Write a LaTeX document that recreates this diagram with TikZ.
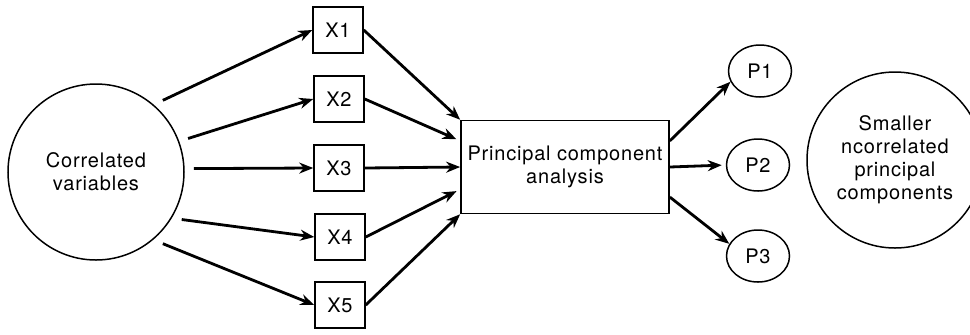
\documentclass[tikz,border=0pt]{standalone}
\usepackage{fontspec}
\setmainfont{TeX Gyre Heros}[LetterSpace=4]
\usetikzlibrary{arrows.meta, positioning, calc}
\usetikzlibrary{shapes.geometric}

\begin{document}
\begin{tikzpicture}[x=0.5pt, y=-0.5pt, font=\fontsize{10}{11.5}\selectfont,
  bigcirc/.style={circle, draw, line width=0.75pt, minimum size=88pt, align=center, outer sep=5pt},
  varbox/.style={rectangle, draw, line width=0.75pt, minimum width=25pt, minimum height=23pt, inner sep=0pt},
  pcabox/.style={rectangle, draw, line width=0.75pt, minimum width=100pt, minimum height=46.5pt, align=center},
  compnode/.style={ellipse, draw, line width=0.75pt, minimum width=31.5pt, minimum height=26pt, inner sep=0pt},
  arr/.style={-{Stealth[length=7pt, width=5.5pt]}, line width=1.4pt}]
  \useasboundingbox (0,0) rectangle (970,334);

  % Input variables
  \node[bigcirc] (corr) at (96,172) {Correlated\\variables};
  \node[varbox] (x1) at (338,30) {X1};
  \node[varbox] (x2) at (339,99) {X2};
  \node[varbox] (x3) at (339,168) {X3};
  \node[varbox] (x4) at (340,237) {X4};
  \node[varbox] (x5) at (340,305) {X5};

  % PCA step
  \node[pcabox] (pca) at (565,167) {Principal component\\analysis};

  % Output components
  \node[compnode] (p1) at (760,71) {P1};
  \node[compnode] (p2) at (758,165) {P2};
  \node[compnode] (p3) at (758,256) {P3};
  \node[bigcirc] (uncorr) at (895,160) {Smaller\\ncorrelated\\principal\\components};

  % Arrows
  \draw[arr] (corr.47) -- (x1.west);
  \draw[arr] (corr.20) -- (x2.west);
  \draw[arr] (corr.2) -- (x3.west);
  \draw[arr] (corr.-29) -- (x4.west);
  \draw[arr] (corr.-47) -- (x5.west);

  \draw[arr] (x1.east) -- (pca.north west);
  \draw[arr, shorten >=2pt] (x2.east) -- (pca.166);
  \draw[arr] (x3.east) -- (pca.west);
  \draw[arr, shorten >=2pt] (x4.east) -- (pca.192);
  \draw[arr] (x5.east) -- (pca.south west);

  \draw[arr] (pca.14) -- (p1.200);
  \draw[arr, shorten >=2pt] (pca.east) -- (p2.west);
  \draw[arr] (pca.-16) -- (p3.157);
\end{tikzpicture}
\end{document}
